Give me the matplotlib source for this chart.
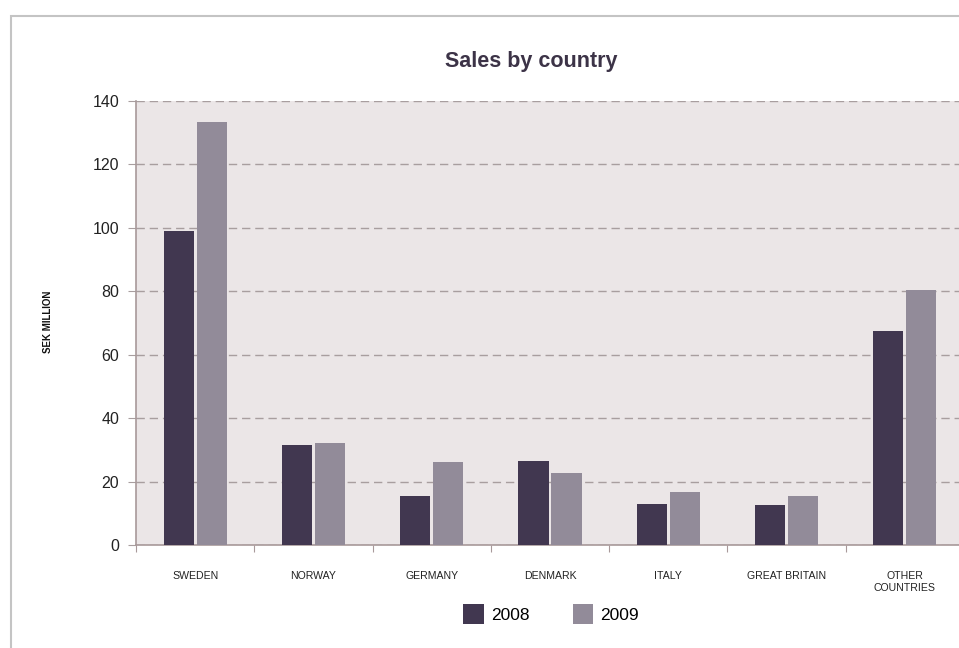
import numpy as np
import matplotlib.pyplot as plt
from matplotlib.patches import Rectangle

plt.rcParams['font.family'] = ['Liberation Sans', 'DejaVu Sans']

countries = ["SWEDEN", "NORWAY", "GERMANY", "DENMARK", "ITALY",
             "GREAT BRITAIN", "OTHER\nCOUNTRIES"]
sales_2008 = [99.0, 31.5, 15.6, 26.6, 13.0, 12.5, 67.5]
sales_2009 = [133.4, 32.1, 26.3, 22.6, 16.7, 15.6, 80.4]
years = ["2008", "2009"]
yticks = [0, 20, 40, 60, 80, 100, 120, 140]

c08 = "#413750"
c09 = "#928b99"
spine_c = "#a8999a"

fig = plt.figure(figsize=(9.59, 6.48), dpi=100)

# outer frame, cut off by the right and bottom edges of the picture
fig.patches.append(Rectangle((11/959, -0.1), 1.2, 1.1 - 16/648, transform=fig.transFigure,
                             fill=False, edgecolor="#c4c4c4", linewidth=1.5))

ax = fig.add_axes([136/959, 1 - 545/648, 828/959, 444/648])
ax.set_facecolor("#ebe6e7")

x = np.arange(len(countries))
w = 0.255
ax.bar(x - 0.14, sales_2008, w, color=c08, label=years[0], zorder=3)
ax.bar(x + 0.14, sales_2009, w, color=c09, label=years[1], zorder=3)

ax.set_xlim(-0.5, len(countries) - 0.5)
ax.set_ylim(0, 140)
ax.set_yticks(yticks)
ax.yaxis.grid(True, linestyle=(0, (6, 3.5)), color="#a89e9f", linewidth=1, zorder=1)
ax.tick_params(axis="y", length=6, color="#a89e9f", labelsize=11.5, pad=6, labelcolor="#222222")

ax.set_xticks(np.arange(len(countries)) - 0.5)
ax.set_xticklabels([])
ax.tick_params(axis="x", which="major", length=5, color=spine_c, direction="out")
ax.set_xticks(x, minor=True)
ax.set_xticklabels(countries, minor=True, fontsize=7.6, color="#222222", va="top")
ax.tick_params(axis="x", which="minor", length=0, pad=19)

for s in ["top", "right"]:
    ax.spines[s].set_visible(False)
for s in ["left", "bottom"]:
    ax.spines[s].set_color(spine_c)
    ax.spines[s].set_linewidth(1.2)

fig.text(48/959, 1 - 322/648, "SEK MILLION", rotation=90, fontsize=7,
         fontweight="bold", ha="center", va="center", color="#111111")
fig.text(531/959, 1 - 62/648, "Sales by country", fontsize=15.5, fontweight="bold",
         ha="center", va="center", color="#3c3347")

fig.legend(loc="center", bbox_to_anchor=(551/959, 1 - 614/648), ncol=2, frameon=False,
           fontsize=12.5, handlelength=1.2, handleheight=1.35, handletextpad=0.4,
           columnspacing=2.5)

fig.savefig("out.png", dpi=100)
